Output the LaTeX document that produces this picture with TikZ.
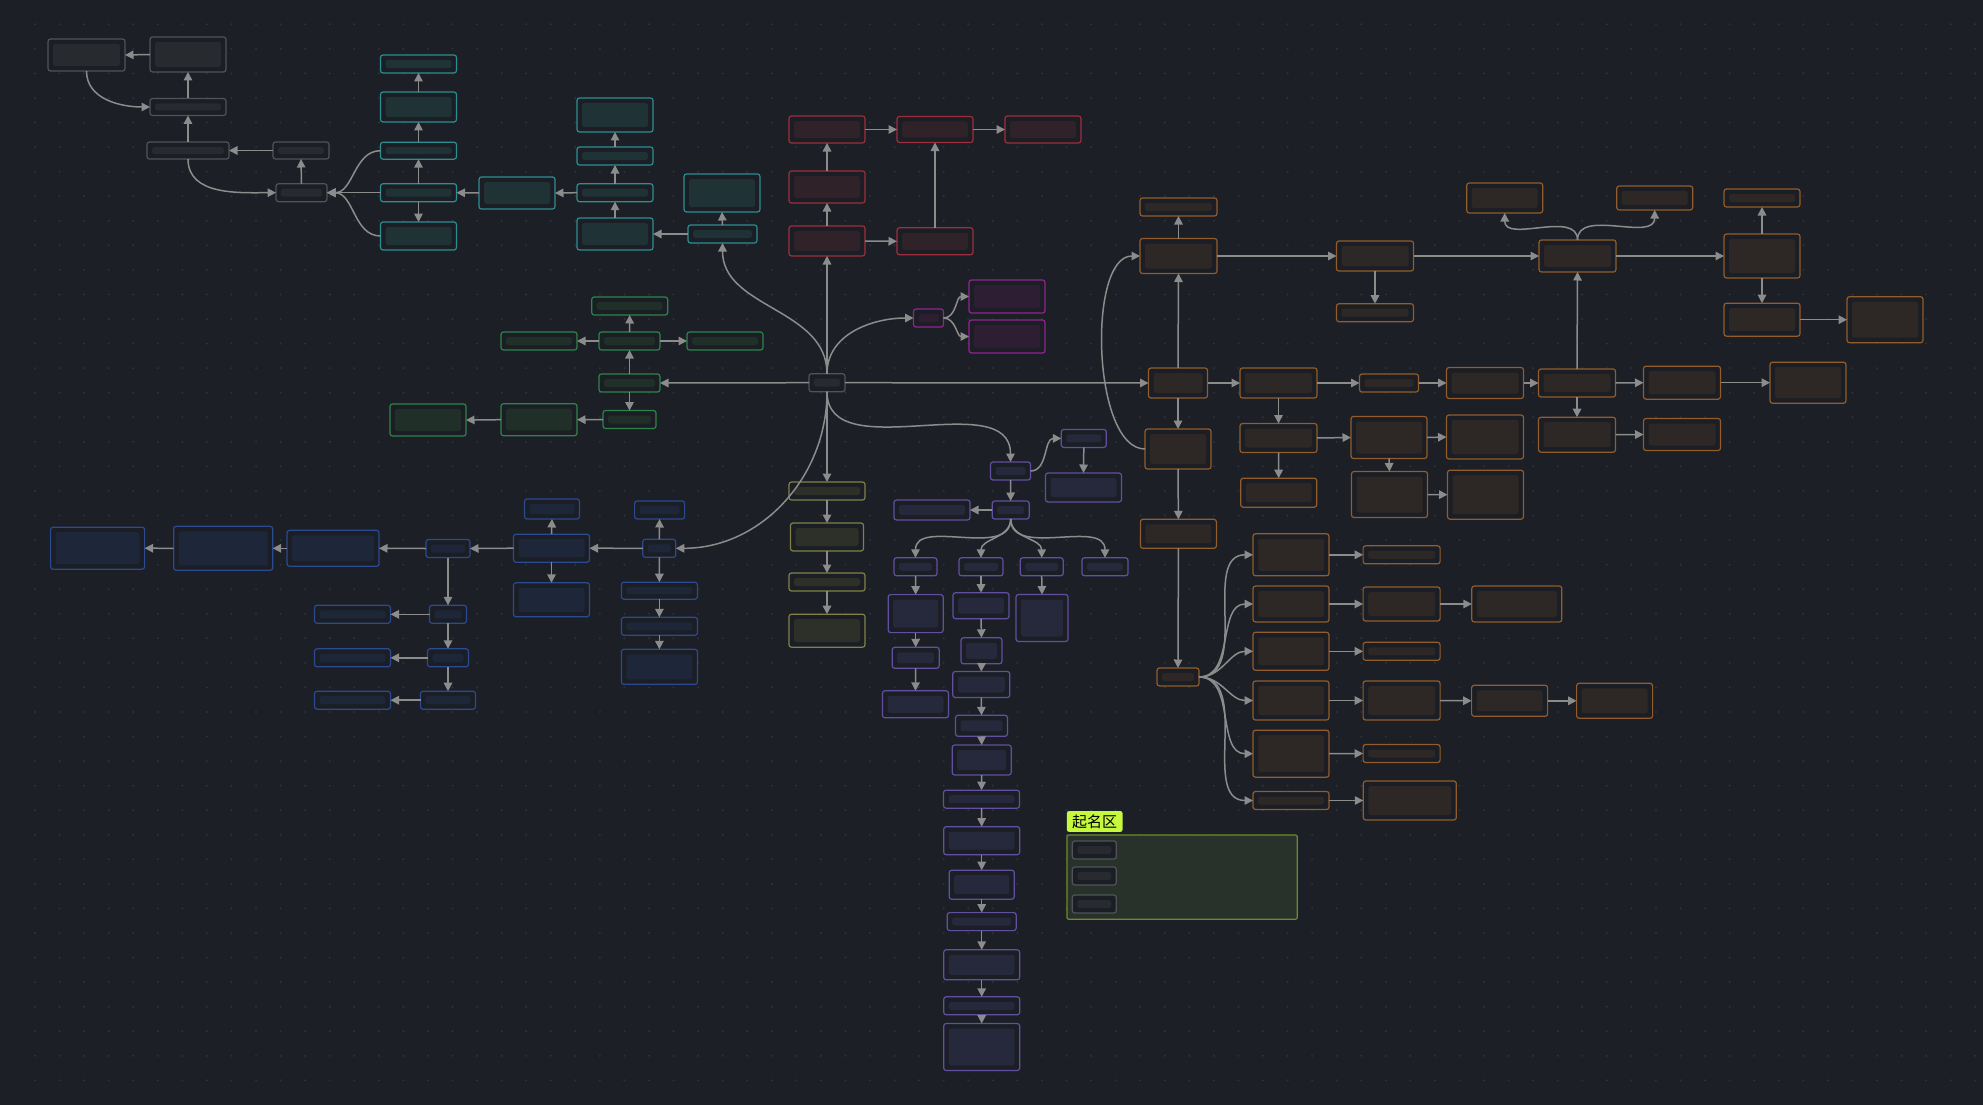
\documentclass[tikz,border=0pt]{standalone}
\usepackage{fontspec}
\newfontfamily\cjk{Noto Sans CJK SC}
\usetikzlibrary{arrows.meta}

\definecolor{bgc}{HTML}{1C1F26}
\definecolor{dotc}{HTML}{2E333B}
\definecolor{boxbg}{HTML}{1B1E24}
\definecolor{linkc}{HTML}{8C8C8C}
\definecolor{grayline}{HTML}{505459}\definecolor{grayin}{HTML}{272B30}
\definecolor{tealline}{HTML}{2B8F92}\definecolor{tealin}{HTML}{1F3336}
\definecolor{redline}{HTML}{9E2E3C}\definecolor{redin}{HTML}{2F2228}
\definecolor{magline}{HTML}{952393}\definecolor{magin}{HTML}{2E1E34}
\definecolor{grnline}{HTML}{2D8449}\definecolor{grnin}{HTML}{203028}
\definecolor{yelline}{HTML}{818147}\definecolor{yelin}{HTML}{2D3028}
\definecolor{purline}{HTML}{6150A0}\definecolor{purin}{HTML}{26283B}
\definecolor{bluline}{HTML}{2A4A92}\definecolor{bluin}{HTML}{1E273A}
\definecolor{brnline}{HTML}{925D2B}\definecolor{brnin}{HTML}{2D2825}
\definecolor{grpfill}{HTML}{29322A}\definecolor{grpline}{HTML}{6C8C28}
\definecolor{tagfill}{HTML}{C6F83C}

\tikzset{
mbox/.style 2 args={
  draw=#1, fill=boxbg, line width=1.2pt, rounded corners=2.5pt,
  inner sep=0pt, outer sep=0pt,
  path picture={\fill[#2] ([shift={(5pt,-5pt)}]path picture bounding box.north west)
    rectangle ([shift={(-5pt,5pt)}]path picture bounding box.south east);}
  },
graybox/.style={mbox={grayline}{grayin}},
tealbox/.style={mbox={tealline}{tealin}},
redbox/.style={mbox={redline}{redin}},
magbox/.style={mbox={magline}{magin}},
grnbox/.style={mbox={grnline}{grnin}},
yelbox/.style={mbox={yelline}{yelin}},
purbox/.style={mbox={purline}{purin}},
blubox/.style={mbox={bluline}{bluin}},
brnbox/.style={mbox={brnline}{brnin}},
sz/.style 2 args={minimum width=#1pt, minimum height=#2pt},
link/.style={draw=linkc, line width=1.5pt, -{Triangle[length=8.5pt,width=8.5pt]}}
}

\begin{document}
\begin{tikzpicture}[x=1pt,y=1pt]

\useasboundingbox (0,0) rectangle (1983,-1105);
\fill[bgc] (0,0) rectangle (1983,-1105);
\foreach \i in {0,...,79}
  \foreach \j in {0,...,43}
    \fill[dotc] ({35+24.56*\i},{-24.3-24.56*\j}) circle (1.1pt);

% gray
\node[graybox,sz={77}{32}] (g1) at (86.5,-55) {};
\node[graybox,sz={76}{35}] (g2) at (188,-54.5) {};
\node[graybox,sz={76}{17}] (g3) at (188,-107) {};
\node[graybox,sz={82}{17}] (g4) at (188,-150.5) {};
\node[graybox,sz={56}{17}] (g5) at (301,-150.5) {};
\node[graybox,sz={51}{18}] (g6) at (301.5,-192.7) {};
\node[graybox,sz={36}{18}] (root) at (827,-382.7) {};

% teal
\node[tealbox,sz={76}{18}] (t1) at (418.5,-64) {};
\node[tealbox,sz={76}{30}] (t2) at (418.5,-107) {};
\node[tealbox,sz={76}{17}] (t3) at (418.5,-150.7) {};
\node[tealbox,sz={76}{18}] (t4) at (418.5,-192.7) {};
\node[tealbox,sz={76}{28}] (t5) at (418.5,-236) {};
\node[tealbox,sz={76}{32}] (t6) at (517,-193) {};
\node[tealbox,sz={76}{34}] (t7) at (615,-115) {};
\node[tealbox,sz={76}{18}] (t8) at (615,-156) {};
\node[tealbox,sz={76}{18}] (t9) at (615,-192.7) {};
\node[tealbox,sz={76}{32}] (t10) at (615,-234) {};
\node[tealbox,sz={76}{38}] (t11) at (722,-193) {};
\node[tealbox,sz={69}{18}] (t12) at (722.5,-234) {};

% red
\node[redbox,sz={76}{27}] (r1) at (827,-129.5) {};
\node[redbox,sz={76}{32}] (r2) at (827,-187) {};
\node[redbox,sz={76}{30}] (r3) at (827,-241) {};
\node[redbox,sz={76}{26}] (r4) at (935,-129.5) {};
\node[redbox,sz={76}{27}] (r5) at (935,-241.3) {};
\node[redbox,sz={76}{27}] (r6) at (1043,-129.5) {};

% magenta
\node[magbox,sz={30}{18}] (m1) at (928.5,-318) {};
\node[magbox,sz={76}{33}] (m2) at (1007,-296.5) {};
\node[magbox,sz={76}{33}] (m3) at (1007,-336.5) {};

% green
\node[grnbox,sz={76}{18}] (e1) at (629.7,-306) {};
\node[grnbox,sz={61}{18}] (e2) at (629.5,-341) {};
\node[grnbox,sz={76}{18}] (e3) at (539,-341) {};
\node[grnbox,sz={76}{18}] (e4) at (725,-341) {};
\node[grnbox,sz={61}{18}] (e5) at (629.5,-383) {};
\node[grnbox,sz={53}{18}] (e6) at (629.5,-419.5) {};
\node[grnbox,sz={76}{32}] (e7) at (539,-419.7) {};
\node[grnbox,sz={76}{32}] (e8) at (428,-420) {};

% yellow
\node[yelbox,sz={76}{18}] (y1) at (827,-491) {};
\node[yelbox,sz={73}{28}] (y2) at (827,-537) {};
\node[yelbox,sz={76}{18}] (y3) at (827,-582) {};
\node[yelbox,sz={76}{33}] (y4) at (827,-630.7) {};

% purple
\node[purbox,sz={40}{18}] (p1) at (1010.5,-471) {};
\node[purbox,sz={45}{18}] (p2) at (1083.8,-438.4) {};
\node[purbox,sz={76}{29}] (p3) at (1083.5,-487.5) {};
\node[purbox,sz={37}{18}] (p4) at (1010.7,-510) {};
\node[purbox,sz={76}{20}] (p5) at (932,-510) {};
\node[purbox,sz={43}{18}] (q1) at (915.5,-566.8) {};
\node[purbox,sz={44}{18}] (q2) at (981,-566.8) {};
\node[purbox,sz={43}{18}] (q3) at (1041.7,-566.8) {};
\node[purbox,sz={46}{18}] (q4) at (1105,-566.8) {};
\node[purbox,sz={55}{38}] (q1a) at (915.7,-613.6) {};
\node[purbox,sz={47}{21}] (q1b) at (915.7,-657.8) {};
\node[purbox,sz={66}{27}] (q1c) at (915.5,-704.3) {};
\node[purbox,sz={56}{26}] (q2a) at (981,-605.7) {};
\node[purbox,sz={41}{26}] (q2b) at (981.5,-650.8) {};
\node[purbox,sz={57}{26}] (q2c) at (981.3,-684.5) {};
\node[purbox,sz={52}{21}] (q2d) at (981.5,-725.8) {};
\node[purbox,sz={59}{30}] (q2e) at (981.7,-760) {};
\node[purbox,sz={76}{18}] (q2f) at (981.5,-799.2) {};
\node[purbox,sz={76}{28}] (q2g) at (981.7,-840.7) {};
\node[purbox,sz={65}{29}] (q2h) at (981.7,-884.7) {};
\node[purbox,sz={69}{18}] (q2i) at (981.7,-921.6) {};
\node[purbox,sz={76}{30}] (q2j) at (981.7,-964.8) {};
\node[purbox,sz={76}{18}] (q2k) at (981.7,-1005.8) {};
\node[purbox,sz={76}{47}] (q2l) at (981.7,-1047) {};
\node[purbox,sz={52}{47}] (q3a) at (1042,-618) {};

% blue
\node[blubox,sz={33}{18}] (u1) at (659.3,-548.3) {};
\node[blubox,sz={50}{18}] (u2) at (659.6,-510) {};
\node[blubox,sz={76}{17}] (u3) at (659.4,-590.7) {};
\node[blubox,sz={76}{18}] (u4) at (659.4,-626.3) {};
\node[blubox,sz={76}{35}] (u5) at (659.4,-666.8) {};
\node[blubox,sz={76}{28}] (v1) at (551.5,-548.2) {};
\node[blubox,sz={55}{20}] (v2) at (552,-509) {};
\node[blubox,sz={76}{34}] (v3) at (551.5,-599.8) {};
\node[blubox,sz={44}{18}] (w1) at (448,-548.5) {};
\node[blubox,sz={92}{36}] (w2) at (333,-548.3) {};
\node[blubox,sz={99}{44}] (w3) at (223.2,-548.3) {};
\node[blubox,sz={94}{42}] (w4) at (97.6,-548.2) {};
\node[blubox,sz={37}{18}] (x1) at (448,-614.3) {};
\node[blubox,sz={76}{18}] (x1b) at (352.5,-614.3) {};
\node[blubox,sz={41}{18}] (x2) at (448,-657.8) {};
\node[blubox,sz={76}{18}] (x2b) at (352.5,-657.8) {};
\node[blubox,sz={55}{18}] (x3) at (448,-700.2) {};
\node[blubox,sz={76}{18}] (x3b) at (352.5,-700.2) {};

% brown
\node[brnbox,sz={77}{18}] (b1) at (1178.5,-207) {};
\node[brnbox,sz={77}{35}] (b2) at (1178.5,-256) {};
\node[brnbox,sz={77}{30}] (b3) at (1375,-256) {};
\node[brnbox,sz={77}{18}] (b4) at (1375,-312.7) {};
\node[brnbox,sz={77}{32}] (b5) at (1577.5,-256) {};
\node[brnbox,sz={76}{30}] (b6) at (1504.7,-198) {};
\node[brnbox,sz={76}{24}] (b7) at (1654.7,-198) {};
\node[brnbox,sz={76}{18}] (b8) at (1762,-198) {};
\node[brnbox,sz={76}{44}] (b9) at (1762,-256) {};
\node[brnbox,sz={76}{33}] (b10) at (1762,-319.7) {};
\node[brnbox,sz={76}{46}] (b11) at (1885,-319.7) {};
\node[brnbox,sz={59}{30}] (c1) at (1178,-383) {};
\node[brnbox,sz={77}{30}] (c2) at (1278.5,-383) {};
\node[brnbox,sz={59}{18}] (c3) at (1389,-383) {};
\node[brnbox,sz={77}{31}] (c4) at (1485,-383) {};
\node[brnbox,sz={77}{28}] (c5) at (1577,-383) {};
\node[brnbox,sz={77}{33}] (c6) at (1682,-382.7) {};
\node[brnbox,sz={76}{41}] (c7) at (1808,-382.7) {};
\node[brnbox,sz={66}{40}] (d1) at (1178,-449) {};
\node[brnbox,sz={77}{29}] (d2) at (1278.5,-438) {};
\node[brnbox,sz={76}{29}] (d2b) at (1278.7,-492.7) {};
\node[brnbox,sz={76}{42}] (d3) at (1389,-437.5) {};
\node[brnbox,sz={76}{46}] (d3b) at (1389.5,-494.5) {};
\node[brnbox,sz={77}{44}] (d4) at (1485,-437) {};
\node[brnbox,sz={76}{49}] (d4b) at (1485.5,-494.7) {};
\node[brnbox,sz={77}{35}] (d5) at (1577,-434.7) {};
\node[brnbox,sz={77}{32}] (d6) at (1682,-434.5) {};
\node[brnbox,sz={76}{29}] (f1) at (1178.4,-533.8) {};
\node[brnbox,sz={42}{18}] (f2) at (1178,-677) {};
\node[brnbox,sz={76}{42}] (h1) at (1291,-554.8) {};
\node[brnbox,sz={77}{18}] (h1b) at (1401.6,-554.8) {};
\node[brnbox,sz={76}{36}] (h2) at (1291,-604) {};
\node[brnbox,sz={77}{34}] (h2b) at (1401.6,-604) {};
\node[brnbox,sz={90}{36}] (h2c) at (1516.8,-604) {};
\node[brnbox,sz={76}{38}] (h3) at (1291,-651.3) {};
\node[brnbox,sz={77}{18}] (h3b) at (1401.6,-651.3) {};
\node[brnbox,sz={76}{39}] (h4) at (1291,-700.5) {};
\node[brnbox,sz={77}{39}] (h4b) at (1401.6,-700.5) {};
\node[brnbox,sz={76}{31}] (h4c) at (1509.6,-700.8) {};
\node[brnbox,sz={76}{35}] (h4d) at (1614.6,-700.8) {};
\node[brnbox,sz={76}{47}] (h5) at (1291,-753.7) {};
\node[brnbox,sz={77}{18}] (h5b) at (1401.6,-753.5) {};
\node[brnbox,sz={76}{18}] (h6) at (1291,-800.5) {};
\node[brnbox,sz={93}{39}] (h6b) at (1409.8,-800.5) {};

% naming area
\node[draw=grpline, fill=grpfill, line width=1.2pt, rounded corners=2pt,
  inner sep=0pt, anchor=north west, minimum width=230.4pt, minimum height=84.4pt]
  (grp) at (1066.3,-834.3) {};
\node[fill=tagfill, rounded corners=2pt, inner sep=0pt, anchor=south west,
  minimum width=55.6pt, minimum height=20.7pt, text=black,
  font=\cjk\fontsize{15}{16}\selectfont] (grptag) at (1066.7,-832) {起名区};
\node[graybox,sz={44}{18}] (n1) at (1094.3,-850) {};
\node[graybox,sz={44}{18}] (n2) at (1094.3,-876) {};
\node[graybox,sz={44}{18}] (n3) at (1094.3,-904) {};

\begin{scope}[every path/.style={link}]

\draw (g2.west) -- (g1.east);
\draw (g1.south) to[out=-90,in=180] (g3.west);
\draw (g3.north) -- (g2.south);
\draw (g4.north) -- (g3.south);
\draw (g5.west) -- (g4.east);
\draw (g6.north) -- (g5.south);
\draw (g4.south) to[out=-90,in=180] (g6.west);

\draw (t3.west) to[out=180,in=0] (g6.east);
\draw (t4.west) -- (g6.east);
\draw (t5.west) to[out=180,in=0] (g6.east);
\draw (t4.north) -- (t3.south);
\draw (t3.north) -- (t2.south);
\draw (t2.north) -- (t1.south);
\draw (t4.south) -- (t5.north);
\draw (t6.west) -- (t4.east);
\draw (t10.north) -- (t9.south);
\draw (t9.north) -- (t8.south);
\draw (t8.north) -- (t7.south);
\draw (t9.west) -- (t6.east);
\draw (t12.west) -- (t10.east);
\draw (t12.north) -- (t11.south);
\draw (root.north) to[out=90,in=-90] (t12.south);

\draw (root.north) -- (r3.south);
\draw (r3.north) -- (r2.south);
\draw (r2.north) -- (r1.south);
\draw (r1.east) -- (r4.west);
\draw (r4.east) -- (r6.west);
\draw (r3.east) -- (r5.west);
\draw (r5.north) -- (r4.south);

\draw (root.north) to[out=90,in=180] (m1.west);
\draw (m1.east) to[out=0,in=180] (m2.west);
\draw (m1.east) to[out=0,in=180] (m3.west);

\draw (root.west) -- (e5.east);
\draw (e5.north) -- (e2.south);
\draw (e2.north) -- (e1.south);
\draw (e2.west) -- (e3.east);
\draw (e2.east) -- (e4.west);
\draw (e5.south) -- (e6.north);
\draw (e6.west) -- (e7.east);
\draw (e7.west) -- (e8.east);

\draw (root.south) -- (y1.north);
\draw (y1.south) -- (y2.north);
\draw (y2.south) -- (y3.north);
\draw (y3.south) -- (y4.north);

\draw (root.south) to[out=-90,in=90] (p1.north);
\draw (p1.east) to[out=0,in=180] (p2.west);
\draw (p2.south) -- (p3.north);
\draw (p1.south) -- (p4.north);
\draw (p4.west) -- (p5.east);
\draw (p4.south) to[out=-90,in=90] (q1.north);
\draw (p4.south) to[out=-90,in=90] (q2.north);
\draw (p4.south) to[out=-90,in=90] (q3.north);
\draw (p4.south) to[out=-90,in=90] (q4.north);
\draw (q1.south) -- (q1a.north);
\draw (q1a.south) -- (q1b.north);
\draw (q1b.south) -- (q1c.north);
\draw (q3.south) -- (q3a.north);
\draw (q2.south) -- (q2a.north);
\draw (q2a.south) -- (q2b.north);
\draw (q2b.south) -- (q2c.north);
\draw (q2c.south) -- (q2d.north);
\draw (q2d.south) -- (q2e.north);
\draw (q2e.south) -- (q2f.north);
\draw (q2f.south) -- (q2g.north);
\draw (q2g.south) -- (q2h.north);
\draw (q2h.south) -- (q2i.north);
\draw (q2i.south) -- (q2j.north);
\draw (q2j.south) -- (q2k.north);
\draw (q2k.south) -- (q2l.north);

\draw (root.south) to[out=-90,in=0] (u1.east);
\draw (u1.north) -- (u2.south);
\draw (u1.west) -- (v1.east);
\draw (u1.south) -- (u3.north);
\draw (u3.south) -- (u4.north);
\draw (u4.south) -- (u5.north);
\draw (v1.north) -- (v2.south);
\draw (v1.south) -- (v3.north);
\draw (v1.west) -- (w1.east);
\draw (w1.west) -- (w2.east);
\draw (w2.west) -- (w3.east);
\draw (w3.west) -- (w4.east);
\draw (w1.south) -- (x1.north);
\draw (x1.south) -- (x2.north);
\draw (x2.south) -- (x3.north);
\draw (x1.west) -- (x1b.east);
\draw (x2.west) -- (x2b.east);
\draw (x3.west) -- (x3b.east);

\draw (root.east) -- (c1.west);
\draw (c1.east) -- (c2.west);
\draw (c2.east) -- (c3.west);
\draw (c3.east) -- (c4.west);
\draw (c4.east) -- (c5.west);
\draw (c5.east) -- (c6.west);
\draw (c6.east) -- (c7.west);
\draw (c1.north) -- (b2.south);
\draw (b2.north) -- (b1.south);
\draw (b2.east) -- (b3.west);
\draw (b3.south) -- (b4.north);
\draw (b3.east) -- (b5.west);
\draw (b5.north) to[out=90,in=-90] (b6.south);
\draw (b5.north) to[out=90,in=-90] (b7.south);
\draw (b5.east) -- (b9.west);
\draw (b9.north) -- (b8.south);
\draw (b9.south) -- (b10.north);
\draw (b10.east) -- (b11.west);
\draw (c5.north) -- (b5.south);
\draw (c5.south) -- (d5.north);
\draw (d5.east) -- (d6.west);
\draw (c2.south) -- (d2.north);
\draw (d2.south) -- (d2b.north);
\draw (d2.east) -- (d3.west);
\draw (d3.south) -- (d3b.north);
\draw (d3.east) -- (d4.west);
\draw (d3b.east) -- (d4b.west);
\draw (c1.south) -- (d1.north);
\draw (d1.west) to[out=180,in=180,looseness=0.7] (b2.west);
\draw (d1.south) -- (f1.north);
\draw (f1.south) -- (f2.north);
\draw (f2.east) to[out=0,in=180] (h1.west);
\draw (f2.east) to[out=0,in=180] (h2.west);
\draw (f2.east) to[out=0,in=180] (h3.west);
\draw (f2.east) to[out=0,in=180] (h4.west);
\draw (f2.east) to[out=0,in=180] (h5.west);
\draw (f2.east) to[out=0,in=180] (h6.west);
\draw (h1.east) -- (h1b.west);
\draw (h2.east) -- (h2b.west);
\draw (h2b.east) -- (h2c.west);
\draw (h3.east) -- (h3b.west);
\draw (h4.east) -- (h4b.west);
\draw (h4b.east) -- (h4c.west);
\draw (h4c.east) -- (h4d.west);
\draw (h5.east) -- (h5b.west);
\draw (h6.east) -- (h6b.west);

\end{scope}
\end{tikzpicture}
\end{document}
